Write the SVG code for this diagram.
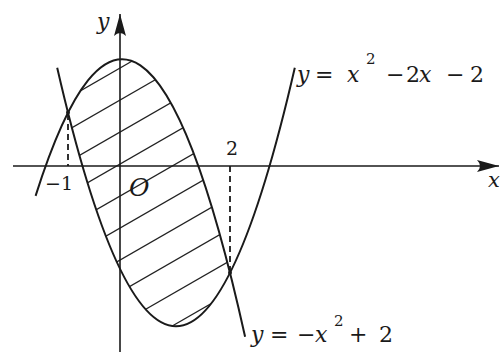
<svg xmlns="http://www.w3.org/2000/svg" width="500" height="352" viewBox="0 0 500 352">
<style>
.ax{stroke:#1a1a1a;stroke-width:1.6;fill:none}
.cv{stroke:#1a1a1a;stroke-width:2;fill:none}
.hatch{stroke:#222;stroke-width:1.2;fill:none}
.dash{stroke:#1a1a1a;stroke-width:1.8;stroke-dasharray:6 4;fill:none}
.t{fill:#1a1a1a;font-family:"DejaVu Serif",serif}
.i{font-style:italic}
</style>
<defs>
<marker id="arr" viewBox="-23 -7 24 14" refX="0" refY="0" markerWidth="24" markerHeight="14" markerUnits="userSpaceOnUse" orient="auto">
<path d="M0,0 L-22,-6 Q-16,0 -22,6 Z" fill="#1a1a1a"/>
</marker>
<clipPath id="region">
<path d="M68 112.6 Q149 -47.6 230 272.8 Q149 433 68 112.6 Z"/>
</clipPath>
</defs>
<rect width="500" height="352" fill="#fff"/>
<g id="hatching" clip-path="url(#region)">
<g class="hatch">
<line x1="30" y1="87.8" x2="280" y2="-56"/>
<line x1="30" y1="119.8" x2="280" y2="-24"/>
<line x1="30" y1="151.8" x2="280" y2="8"/>
<line x1="30" y1="183.8" x2="280" y2="40"/>
<line x1="30" y1="215.8" x2="280" y2="72"/>
<line x1="30" y1="247.8" x2="280" y2="104"/>
<line x1="30" y1="279.8" x2="280" y2="136"/>
<line x1="30" y1="311.8" x2="280" y2="168"/>
<line x1="30" y1="343.8" x2="280" y2="200"/>
<line x1="30" y1="375.8" x2="280" y2="232"/>
<line x1="30" y1="407.8" x2="280" y2="264"/>
<line x1="30" y1="439.8" x2="280" y2="296"/>
</g>
</g>
<g id="axes">
<line class="ax" x1="13" y1="166" x2="499" y2="166" marker-end="url(#arr)"/>
<line class="ax" x1="120" y1="352" x2="120" y2="14" marker-end="url(#arr)"/>
</g>
<g id="curves">
<path id="curveA" class="cv" d="M35.6 195.9 Q140.36 -135.6 245.1 336.8"/>
<path id="curveB" class="cv" d="M57.2 67.7 Q176 584.7 294.8 67.7"/>
</g>
<g id="guides">
<line class="dash" x1="68" y1="114" x2="68" y2="166"/>
<line class="dash" x1="230" y1="166" x2="230" y2="271"/>
<circle cx="68" cy="112.6" r="2" fill="#1a1a1a"/>
<circle cx="230" cy="272.8" r="2" fill="#1a1a1a"/>
</g>
<g id="labels">
<text class="t i" x="97" y="29" font-size="22">y</text>
<text class="t i" x="488" y="187" font-size="21">x</text>
<text class="t" x="232" y="155" font-size="19" text-anchor="middle">2</text>
<text class="t" x="59" y="190" font-size="19" text-anchor="middle">−1</text>
<text class="t i" x="129" y="196" font-size="25">O</text>
<text class="t" font-size="22"><tspan class="i" x="297" y="82">y</tspan><tspan x="315" y="82">=</tspan><tspan class="i" x="347" y="82">x</tspan><tspan x="366" y="64" font-size="15">2</tspan><tspan x="386" y="82">−</tspan><tspan x="406" y="82">2</tspan><tspan class="i" x="419" y="82">x</tspan><tspan x="446" y="82">−</tspan><tspan x="470" y="82">2</tspan></text>
<text class="t" font-size="22"><tspan class="i" x="251" y="342">y</tspan><tspan x="270" y="342">=</tspan><tspan x="297" y="342">−</tspan><tspan class="i" x="315" y="342">x</tspan><tspan x="334" y="326" font-size="15">2</tspan><tspan x="349" y="342">+</tspan><tspan x="379" y="342">2</tspan></text>
</g>
</svg>
